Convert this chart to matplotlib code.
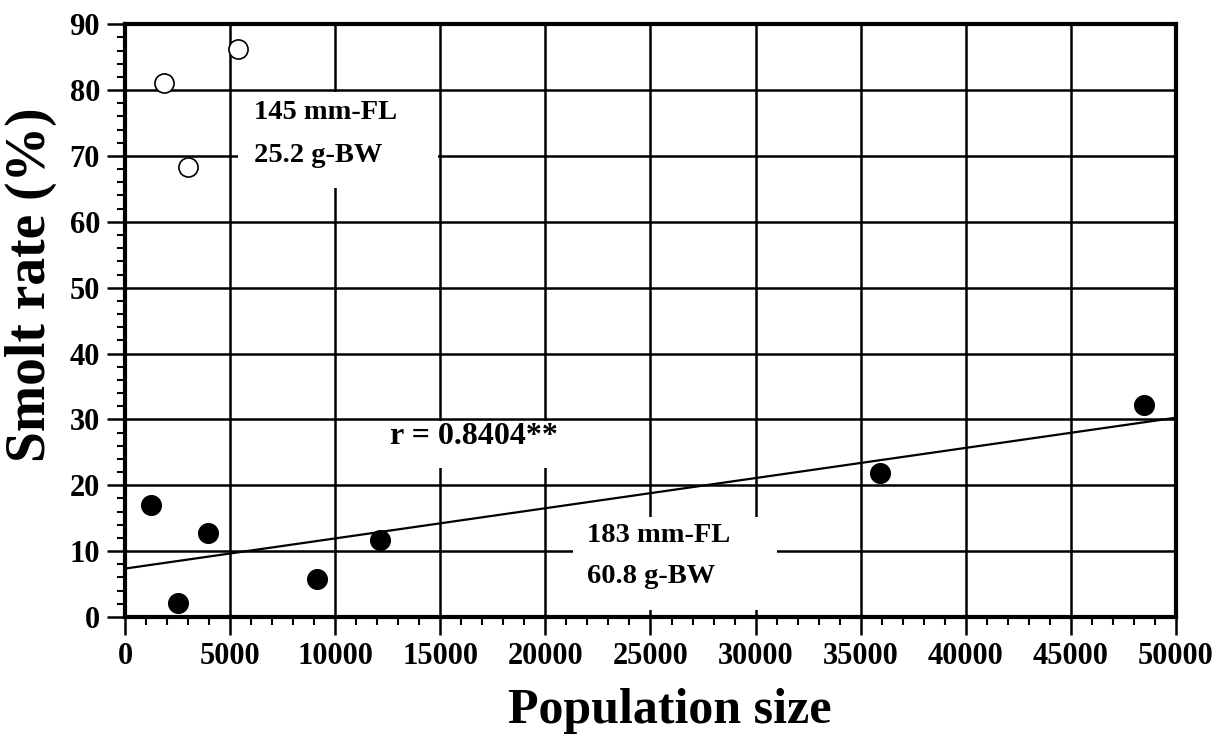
import numpy as np
import matplotlib
matplotlib.use('Agg')
import matplotlib.pyplot as plt
from matplotlib.ticker import MultipleLocator
from matplotlib.patches import Rectangle

# population size vs. smolt rate
open_x = [1850, 5400, 2980]          # 145 mm-FL, 25.2 g-BW
open_y = [81.0, 86.2, 68.3]
filled_x = [1220, 2540, 3930, 9150, 12130, 35920, 48490]   # 183 mm-FL, 60.8 g-BW
filled_y = [17.0, 2.2, 12.7, 5.7, 11.7, 21.9, 32.2]

x_range = [0, 50000]
y_range = [0, 90]

plt.rcParams['font.family'] = ['Liberation Serif', 'DejaVu Serif']
plt.rcParams['font.weight'] = 'bold'

fig = plt.figure(figsize=(12.3, 7.34), dpi=100)
ax = fig.add_axes([0.1016, 0.1594, 0.8545, 0.8076])

# regression on the filled points
slope, intercept = np.polyfit(filled_x, filled_y, 1)
line_x = np.array(x_range)
ax.plot(line_x, slope * line_x + intercept, color='black', lw=1.6, zorder=3)

ax.scatter(filled_x, filled_y, s=200, color='black', zorder=4)
ax.scatter(open_x, open_y, s=190, facecolors='white', edgecolors='black',
           linewidths=1.2, zorder=4)

ax.set_xlim(x_range)
ax.set_ylim(y_range)
ax.xaxis.set_major_locator(MultipleLocator(5000))
ax.xaxis.set_minor_locator(MultipleLocator(1000))
ax.yaxis.set_major_locator(MultipleLocator(10))
ax.yaxis.set_minor_locator(MultipleLocator(2))

ax.set_axisbelow(True)
ax.grid(which='major', color='black', lw=1.8)

ax.tick_params(which='major', direction='out', length=13, width=1.8,
               labelsize=22, pad=5)
ax.tick_params(which='minor', direction='out', length=6, width=1.5)
for lab in ax.get_xticklabels() + ax.get_yticklabels():
    lab.set_fontweight('bold')
for sp in ax.spines.values():
    sp.set_linewidth(3)

# white boxes behind the annotations
ax.add_patch(Rectangle((5380, 65.1), 9500, 14.6, facecolor='white',
                       edgecolor='none', zorder=2))
ax.add_patch(Rectangle((11800, 22.6), 9500, 7.2, facecolor='white',
                       edgecolor='none', zorder=2))
ax.add_patch(Rectangle((21300, 1.1), 9700, 14.1, facecolor='white',
                       edgecolor='none', zorder=2))

ax.text(6130, 76.6, '145 mm-FL', fontsize=20.5, fontweight='bold',
        va='center', zorder=5)
ax.text(6130, 70.0, '25.2 g-BW', fontsize=20.5, fontweight='bold',
        va='center', zorder=5)
ax.text(12600, 27.4, 'r = 0.8404**', fontsize=23, fontweight='bold',
        va='center', zorder=5)
ax.text(22000, 12.4, '183 mm-FL', fontsize=20.5, fontweight='bold',
        va='center', zorder=5)
ax.text(22000, 6.1, '60.8 g-BW', fontsize=20.5, fontweight='bold',
        va='center', zorder=5)

ax.set_xlabel('Population size', fontsize=36, fontweight='bold')
ax.xaxis.set_label_coords(0.518, -0.12)
ax.xaxis.label.set_va('top')
ax.set_ylabel('Smolt rate (%)', fontsize=40, fontweight='bold')
ax.yaxis.set_label_coords(-0.065, 0.56)

plt.savefig('out.png', dpi=100)
